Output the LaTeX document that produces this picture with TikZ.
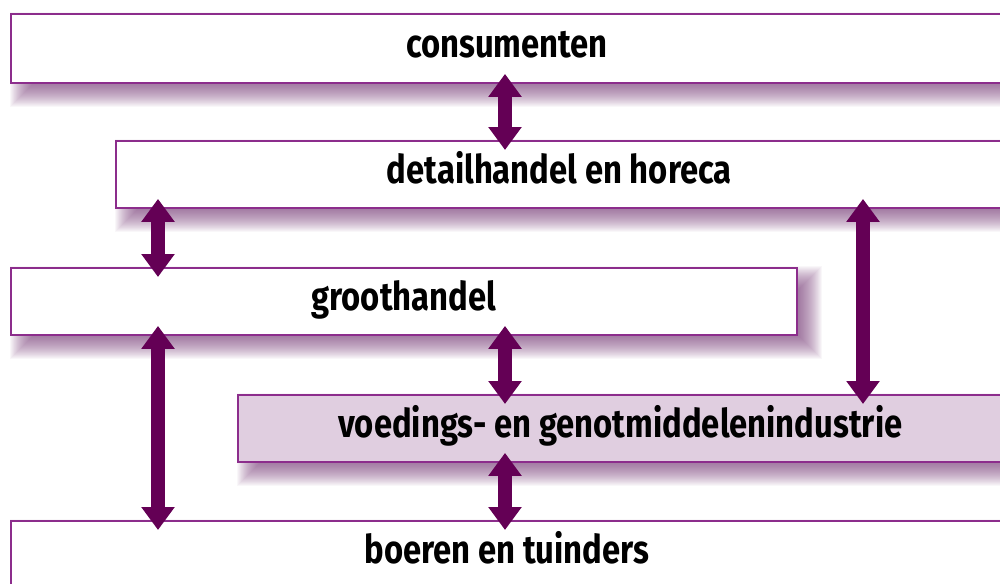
\documentclass[tikz,border=0pt]{standalone}
\usepackage{fontspec}
\setmainfont{Fira Sans}[FakeStretch=0.83]
\usetikzlibrary{arrows.meta}
\pgfdeclarelayer{shadowlayer}
\pgfsetlayers{shadowlayer,main}
\definecolor{boxline}{RGB}{140,45,140}
\definecolor{arrowc}{RGB}{100,0,85}
\definecolor{voedfill}{RGB}{224,206,224}
\definecolor{shadowc}{RGB}{105,40,105}
\begin{document}
\begin{tikzpicture}[x=0.02cm,y=-0.02cm,
  box/.style={draw=boxline, line width=1.1pt, fill=white, anchor=north west,
    inner sep=0pt, minimum height=1.34cm, text height=18pt, text depth=7.2pt,
    font=\fontsize{22.5}{26}\selectfont\bfseries},
  softshadow/.style={fill=shadowc, opacity=0.04},
  dblarrow/.style={draw=arrowc, line width=0.28cm,
    {Triangle[width=0.64cm,length=0.46cm]}-{Triangle[width=0.64cm,length=0.46cm]},
    shorten <=-0.2cm, shorten >=-0.2cm}]
\useasboundingbox (0,0) rectangle (1000,584);
\clip (0,0) rectangle (1000,584);
\node[box, minimum width=19.84cm, minimum height=1.38cm] (cons) at (10,13) {consumenten};
\node[box, minimum width=17.74cm] (det) at (115,140) {detailhandel en horeca};
\node[box, minimum width=15.72cm] (groot) at (10,267) {groothandel};
\node[box, minimum width=15.3cm, fill=voedfill] (voed) at (237,394) {voedings- en genotmiddelenindustrie};
\node[box, minimum width=19.84cm] (boer) at (10,520) {boeren en tuinders};
\begin{pgfonlayer}{shadowlayer}
\foreach \b in {cons,det,groot,voed,boer}{
  \foreach \e in {12,11,...,-11}{
    \fill[softshadow] ([shift={(12-\e,11-\e)}]\b.north west) rectangle ([shift={(12+\e,11+\e)}]\b.south east);
  }
}
\end{pgfonlayer}
\draw[dblarrow] (505,0 |- cons.south) -- (505,0 |- det.north);
\draw[dblarrow] (158,0 |- det.south) -- (158,0 |- groot.north);
\draw[dblarrow] (863,0 |- det.south) -- (863,0 |- voed.north);
\draw[dblarrow] (158,0 |- groot.south) -- (158,0 |- boer.north);
\draw[dblarrow] (505,0 |- groot.south) -- (505,0 |- voed.north);
\draw[dblarrow] (505,0 |- voed.south) -- (505,0 |- boer.north);
\end{tikzpicture}
\end{document}
